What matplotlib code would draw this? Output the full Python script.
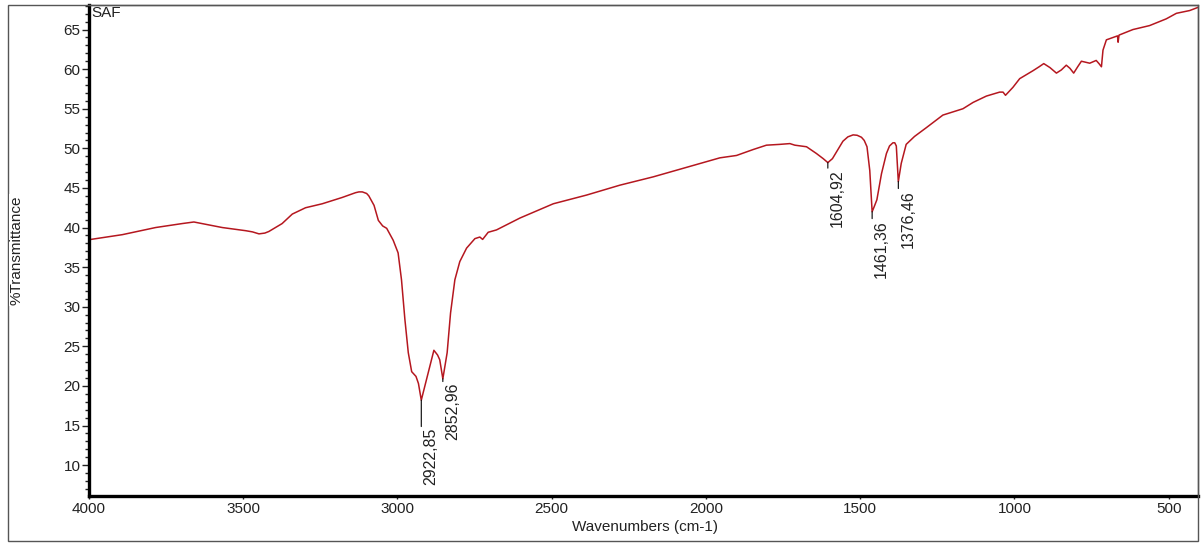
import matplotlib
matplotlib.use('Agg')
import matplotlib.pyplot as plt
from matplotlib.patches import Rectangle
from matplotlib.ticker import MultipleLocator

plt.rcParams['font.family'] = ['Liberation Sans', 'DejaVu Sans']

# FTIR spectrum of sample SAF (wavenumber in cm-1, %T)
wavenumber = [4000, 3994, 3892, 3784, 3698, 3660, 3620, 3568, 3492, 3470,
              3449, 3430, 3417, 3400, 3374, 3341, 3298, 3244, 3179, 3150,
              3136, 3125, 3114, 3100, 3093, 3076, 3062, 3048, 3035, 3014,
              2998, 2987, 2976, 2965, 2954, 2940, 2932, 2922.85, 2906, 2882,
              2870, 2863, 2852.96, 2839, 2828, 2814, 2798, 2776, 2749, 2733,
              2724, 2706, 2679, 2603, 2495, 2387, 2279, 2171, 2063, 1955,
              1901, 1847, 1804, 1761, 1728, 1712, 1674, 1642, 1620, 1604.92,
              1590, 1570, 1556, 1540, 1523, 1510, 1496, 1487, 1478, 1469,
              1465, 1461.36, 1455, 1446, 1431, 1415, 1405, 1394, 1388, 1383,
              1376.46, 1367, 1351, 1324, 1286, 1232, 1167, 1134, 1091, 1048,
              1037, 1029, 1005, 983, 940, 920, 905, 885, 864, 848,
              832, 820, 808, 795, 783, 756, 735, 726, 718, 713,
              702, 681, 666, 664, 661, 616, 562, 508, 475, 432,
              405]
transmittance = [38.4, 38.5, 39.1, 40.0, 40.5, 40.7, 40.4, 40.0, 39.6, 39.45,
                 39.2, 39.3, 39.5, 39.9, 40.5, 41.7, 42.5, 43.0, 43.8, 44.2,
                 44.4, 44.5, 44.5, 44.3, 44.0, 42.8, 40.9, 40.2, 39.9, 38.4,
                 36.8, 33.4, 28.4, 24.2, 21.8, 21.2, 20.3, 18.2, 20.8, 24.5,
                 23.9, 23.3, 20.9, 24.2, 29.2, 33.4, 35.7, 37.4, 38.6, 38.8,
                 38.5, 39.4, 39.7, 41.2, 43.0, 44.1, 45.35, 46.4, 47.6, 48.8,
                 49.1, 49.85, 50.4, 50.5, 50.6, 50.4, 50.2, 49.35, 48.7, 48.2,
                 48.7, 50.0, 50.9, 51.45, 51.7, 51.65, 51.4, 51.0, 50.2, 47.2,
                 44.5, 42.0, 42.6, 43.5, 46.8, 49.35, 50.3, 50.7, 50.7, 50.3,
                 45.8, 48.1, 50.5, 51.5, 52.6, 54.2, 55.0, 55.8, 56.6, 57.1,
                 57.1, 56.7, 57.7, 58.8, 59.8, 60.3, 60.7, 60.2, 59.5, 59.9,
                 60.5, 60.1, 59.5, 60.3, 61.0, 60.75, 61.1, 60.7, 60.3, 62.4,
                 63.7, 64.0, 64.2, 63.4, 64.3, 65.0, 65.5, 66.35, 67.05, 67.4,
                 67.8]

# labelled absorption bands
peak_wn = [2922.85, 2852.96, 1604.92, 1461.36, 1376.46]
peak_t = [18.2, 20.9, 48.2, 42.0, 45.8]
peak_labels = ['2922,85', '2852,96', '1604,92', '1461,36', '1376,46']
leader_len = [19, 2, 4, 5, 5]

fig = plt.figure(figsize=(12.02, 5.45), dpi=100)
ax = fig.add_axes([89 / 1202, 49 / 545, 1109 / 1202, 491 / 545])

ax.plot(wavenumber, transmittance, color='#b5171f', lw=1.1)

for wn, t, lab, L in zip(peak_wn, peak_t, peak_labels, leader_len):
    ax.annotate('', xy=(wn, t), xytext=(0, -L), textcoords='offset points',
                arrowprops=dict(arrowstyle='-', color='black', lw=0.8,
                                shrinkA=0, shrinkB=0))
    ax.annotate(lab, xy=(wn, t), xytext=(1.5, -L - 1), textcoords='offset points',
                rotation=90, ha='left', va='top', fontsize=11.5, color='#222222')

ax.set_xlim(4000, 405)
ax.set_ylim(6.1, 68.1)
ax.xaxis.set_major_locator(MultipleLocator(500))
ax.yaxis.set_major_locator(MultipleLocator(5))
ax.yaxis.set_minor_locator(MultipleLocator(1))

ax.tick_params(axis='y', which='major', length=5, width=1, labelsize=11, pad=1, colors='#222222')
ax.tick_params(axis='y', which='minor', length=3, width=1, color='#222222')
ax.tick_params(axis='x', which='major', length=2.5, width=1, labelsize=11, pad=2, colors='#222222')

for side in ['left', 'bottom']:
    ax.spines[side].set_linewidth(2.4)
    ax.spines[side].set_color('black')
for side in ['top', 'right']:
    ax.spines[side].set_linewidth(1.0)
    ax.spines[side].set_color('#555555')

ax.text(0.002, 0.998, 'SAF', transform=ax.transAxes, ha='left', va='top',
        fontsize=11, color='#222222')

# outer frame around the whole chart
fig.patches.append(Rectangle((8 / 1202, 4 / 545), 1190 / 1202, 536 / 545,
                             transform=fig.transFigure, fill=False,
                             edgecolor='#555555', lw=1.0, zorder=0))

fig.text(17 / 1202, 0.541, '%Transmittance', rotation=90, ha='center', va='center',
         fontsize=11, color='#222222',
         bbox=dict(facecolor='white', edgecolor='none', pad=1))
fig.text(645 / 1202, 1 - 527 / 545, 'Wavenumbers (cm-1)', ha='center', va='center',
         fontsize=11, color='#222222')

fig.savefig('out.png', dpi=100)
